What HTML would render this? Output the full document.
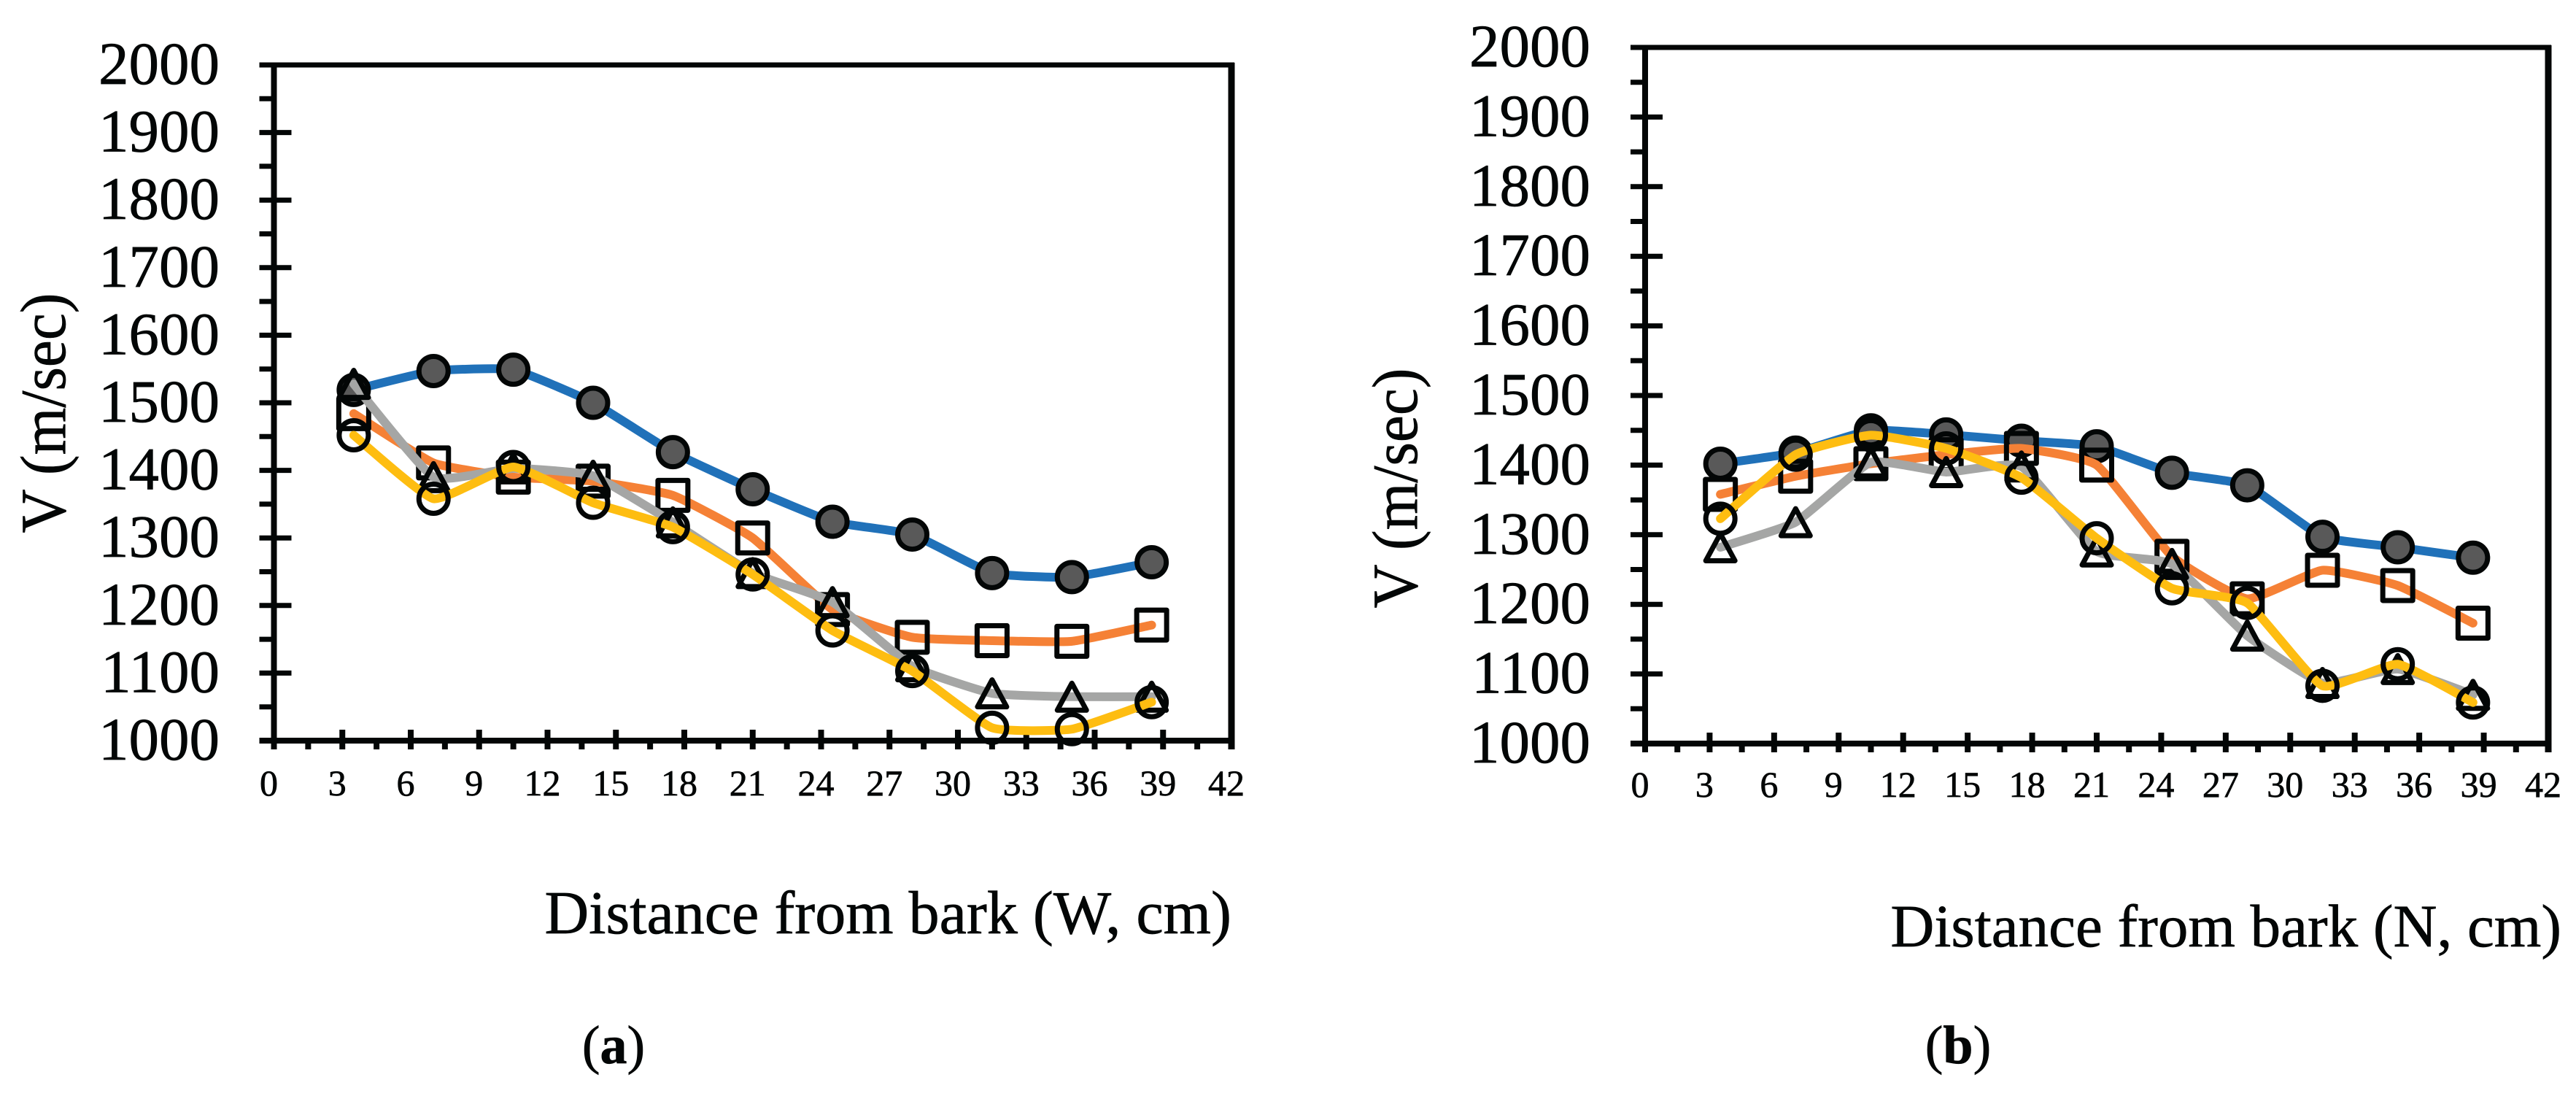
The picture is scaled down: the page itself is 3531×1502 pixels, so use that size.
<!DOCTYPE html>
<html lang="en">
<head>
<meta charset="utf-8">
<title>Velocity versus distance from bark</title>
<style>
html,body{margin:0;padding:0;background:#fff;width:3531px;height:1502px;overflow:hidden}
svg{display:block}
text{font-family:"Liberation Serif","Times New Roman",serif;fill:#030606;stroke:#030606;stroke-width:.7px}
</style>
</head>
<body>
<svg id="figure" width="3531" height="1502" viewBox="0 0 3531 1502" xmlns="http://www.w3.org/2000/svg">
<text x="841" y="1457" font-size="74" text-anchor="middle">(<tspan font-weight="bold">a</tspan>)</text>
<text x="2684" y="1457" font-size="74" text-anchor="middle">(<tspan font-weight="bold">b</tspan>)</text>
</svg>
<script>
// Shared categories and tick labels
const distances = [3.5, 7, 10.5, 14, 17.5, 21, 24.5, 28, 31.5, 35, 38.5];
const yTickValues = [1000, 1100, 1200, 1300, 1400, 1500, 1600, 1700, 1800, 1900, 2000];
const xTickValues = [0, 3, 6, 9, 12, 15, 18, 21, 24, 27, 30, 33, 36, 39, 42];

// Panel (a) series
const panelABlue = [1519, 1547, 1549, 1500, 1427, 1372, 1324, 1305, 1248, 1242, 1264];
const panelAOrange = [1484, 1411, 1390, 1384, 1363, 1300, 1194, 1153, 1148, 1147, 1171];
const panelAGrey = [1528, 1390, 1403, 1392, 1323, 1248, 1205, 1110, 1070, 1065, 1065];
const panelAYellow = [1452, 1358, 1405, 1352, 1316, 1246, 1163, 1103, 1019, 1017, 1057];

// Panel (b) series
const panelBBlue = [1402, 1418, 1450, 1444, 1435, 1427, 1389, 1371, 1297, 1282, 1267];
const panelBOrange = [1358, 1384, 1402, 1415, 1424, 1400, 1269, 1208, 1249, 1227, 1173];
const panelBGrey = [1282, 1318, 1404, 1390, 1398, 1276, 1258, 1155, 1087, 1107, 1070];
const panelBYellow = [1323, 1415, 1443, 1424, 1382, 1295, 1223, 1202, 1083, 1114, 1059];

const NS = 'http://www.w3.org/2000/svg';
const figure = document.getElementById('figure');
const INK = '#030606';

function make(tag, parent, attrs, txt) {
  const n = document.createElementNS(NS, tag);
  for (const k in attrs) n.setAttribute(k, attrs[k]);
  if (txt !== undefined) n.textContent = txt;
  parent.appendChild(n);
  return n;
}

function smoothPath(pts) {
  let d = 'M' + pts[0][0] + ' ' + pts[0][1];
  const t = 0.07;
  for (let i = 0; i < pts.length - 1; i++) {
    const p0 = pts[Math.max(i - 1, 0)], p1 = pts[i], p2 = pts[i + 1], p3 = pts[Math.min(i + 2, pts.length - 1)];
    d += ' C' + (p1[0] + (p2[0] - p0[0]) * t) + ' ' + (p1[1] + (p2[1] - p0[1]) * t) + ' ' +
         (p2[0] - (p3[0] - p1[0]) * t) + ' ' + (p2[1] - (p3[1] - p1[1]) * t) + ' ' + p2[0] + ' ' + p2[1];
  }
  return d;
}

function drawMarker(group, kind, cx, cy) {
  if (kind === 'filled-circle') {
    return make('circle', group, {cx: cx, cy: cy, r: 20, fill: '#595959', stroke: INK, 'stroke-width': 7});
  }
  if (kind === 'circle') {
    return make('circle', group, {cx: cx, cy: cy, r: 20, fill: 'none', stroke: INK, 'stroke-width': 7});
  }
  if (kind === 'square') {
    return make('rect', group, {x: cx - 20.5, y: cy - 20.5, width: 41, height: 41, fill: 'none', stroke: INK, 'stroke-width': 7, 'stroke-linejoin': 'round'});
  }
  return make('path', group, {d: 'M' + cx + ' ' + (cy - 18.5) + ' L' + (cx + 20) + ' ' + (cy + 18.5) + ' L' + (cx - 20) + ' ' + (cy + 18.5) + ' Z', fill: 'none', stroke: INK, 'stroke-width': 7, 'stroke-linejoin': 'round'});
}

function drawPanel(cfg) {
  const xScale = v => cfg.left + (v / 42) * (cfg.right - cfg.left);
  const yScale = v => cfg.bottom - ((v - 1000) / 1000) * (cfg.bottom - cfg.top);

  const panel = make('g', figure, {});
  
  

  // plot frame
  const topSpine = make('line', panel, {x1: cfg.left - 20, y1: cfg.top, x2: cfg.right + 4, y2: cfg.top, stroke: INK, 'stroke-width': 7});
  
  
  const rightSpine = make('line', panel, {x1: cfg.right, y1: cfg.top - 3, x2: cfg.right, y2: cfg.bottom + 12, stroke: INK, 'stroke-width': 9});
  
  
  const yAxisLine = make('line', panel, {x1: cfg.left, y1: cfg.top - 3, x2: cfg.left, y2: cfg.bottom + 12, stroke: INK, 'stroke-width': 8});
  
  
  const xAxisLine = make('line', panel, {x1: cfg.left - 20, y1: cfg.bottom, x2: cfg.right + 4, y2: cfg.bottom, stroke: INK, 'stroke-width': 8});
  
  

  // y ticks and labels
  yTickValues.forEach(v => {
    const y = yScale(v);
    const tick = make('line', panel, {x1: cfg.left - 20, y1: y, x2: cfg.left + 24, y2: y, stroke: INK, 'stroke-width': 7});
    
    
    if (v < 2000) {
      const minor = make('line', panel, {x1: cfg.left - 20, y1: yScale(v + 50), x2: cfg.left, y2: yScale(v + 50), stroke: INK, 'stroke-width': 7});
      
      
    }
    const label = make('text', panel, {x: cfg.yLabelRight, y: y + 26, 'font-size': 83, 'text-anchor': 'end'}, String(v));
    
    
  });

  // x ticks and labels
  xTickValues.forEach(v => {
    const x = xScale(v);
    const tick = make('line', panel, {x1: x, y1: cfg.bottom - 15, x2: x, y2: cfg.bottom + 12, stroke: INK, 'stroke-width': 8});
    
    
    if (v < 42) {
      const minor = make('line', panel, {x1: xScale(v + 1.5), y1: cfg.bottom, x2: xScale(v + 1.5), y2: cfg.bottom + 12, stroke: INK, 'stroke-width': 8});
      
      
    }
    const label = make('text', panel, {x: x - 7, y: cfg.xLabelBase, 'font-size': 50, 'text-anchor': 'middle'}, String(v));
    
    
  });

  // axis titles
  const yTitle = make('text', panel, {x: 0, y: 0, 'font-size': 88, 'text-anchor': 'middle', textLength: 329, lengthAdjust: 'spacingAndGlyphs', transform: 'translate(' + cfg.yTitleX + ' ' + cfg.yTitleY + ') rotate(-90)'}, 'V (m/sec)');
  
  
  const xTitle = make('text', panel, {x: cfg.xTitleRight, y: cfg.xTitleBase, 'font-size': cfg.xTitleSize, 'text-anchor': 'end'}, cfg.xTitle);
  
  

  // series
  cfg.series.forEach(s => {
    const group = make('g', panel, {});
    
    
    const pts = distances.map((d, i) => [xScale(d), yScale(s.values[i])]);
    const line = make('path', group, {d: smoothPath(pts), fill: 'none', stroke: s.color, 'stroke-width': 12, 'stroke-linecap': 'round', 'stroke-linejoin': 'round'});
    
    
    pts.forEach(p => {
      const m = drawMarker(group, s.marker, p[0], p[1]);
      
      
    });
  });
}

drawPanel({
  name: 'chart-panel-a', left: 375.5, right: 1688, top: 89, bottom: 1015,
  yLabelRight: 301, xLabelBase: 1090,
  yTitleX: 89, yTitleY: 566,
  xTitle: 'Distance from bark (W, cm)', xTitleRight: 1688, xTitleBase: 1279, xTitleSize: 84,
  series: [
    {label: 'blue', color: '#2071B9', marker: 'filled-circle', values: panelABlue},
    {label: 'orange', color: '#F58136', marker: 'square', values: panelAOrange},
    {label: 'grey', color: '#A5A6A5', marker: 'triangle', values: panelAGrey},
    {label: 'yellow', color: '#FEBD11', marker: 'circle', values: panelAYellow}
  ]
});

drawPanel({
  name: 'chart-panel-b', left: 2255, right: 3493, top: 65, bottom: 1019,
  yLabelRight: 2180, xLabelBase: 1092,
  yTitleX: 1942, yTitleY: 669,
  xTitle: 'Distance from bark (N, cm)', xTitleRight: 3511, xTitleBase: 1297, xTitleSize: 83,
  series: [
    {label: 'blue', color: '#2071B9', marker: 'filled-circle', values: panelBBlue},
    {label: 'orange', color: '#F58136', marker: 'square', values: panelBOrange},
    {label: 'grey', color: '#A5A6A5', marker: 'triangle', values: panelBGrey},
    {label: 'yellow', color: '#FEBD11', marker: 'circle', values: panelBYellow}
  ]
});
</script>
</body>
</html>
